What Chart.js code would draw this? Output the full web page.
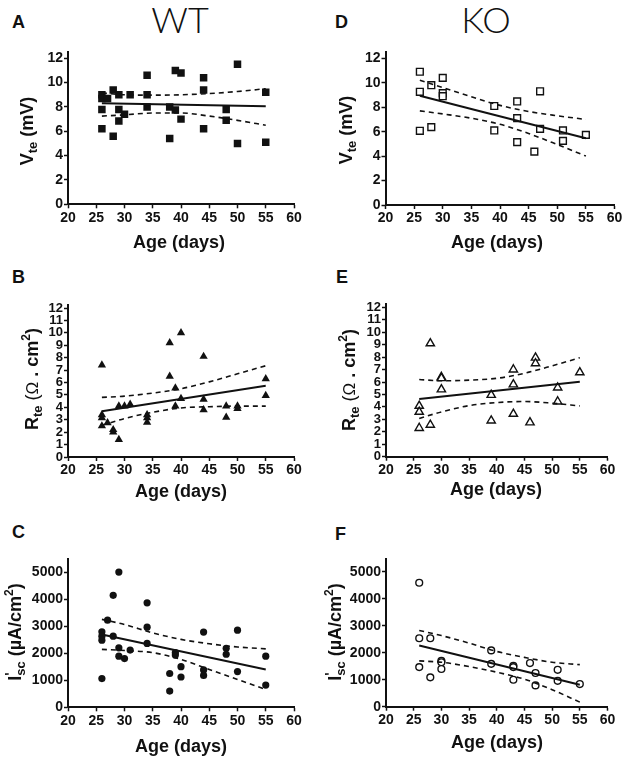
<!DOCTYPE html>
<html><head><meta charset="utf-8">
<script src="https://cdn.jsdelivr.net/npm/chart.js@4.4.1/dist/chart.umd.min.js"></script>
<style>
html,body{margin:0;padding:0;background:#fff;}
body{width:640px;height:772px;position:relative;overflow:hidden;font-family:"Liberation Sans",Arial,sans-serif;}
canvas{position:absolute;}
.lbl{position:absolute;font-weight:bold;font-size:18px;line-height:18px;color:#111;}
.grp{position:absolute;width:140px;text-align:center;font-family:"Lato","DejaVu Sans",sans-serif;font-weight:300;font-size:36px;line-height:36px;color:#111;}
</style></head><body>
<div class="grp" style="left:110px;top:1px">WT</div>
<div class="grp" style="left:416px;top:1px">KO</div>
<div class="lbl" style="left:12px;top:13px">A</div>
<div class="lbl" style="left:335px;top:13px">D</div>
<div class="lbl" style="left:12px;top:268px">B</div>
<div class="lbl" style="left:336px;top:268px">E</div>
<div class="lbl" style="left:12px;top:523px">C</div>
<div class="lbl" style="left:335px;top:525px">F</div>
<script>
// ---------- data ----------
const ageTicks = [20,25,30,35,40,45,50,55,60];
const vteTicks = [0,2,4,6,8,10,12];
const rteTicks = [0,1,2,3,4,5,6,7,8,9,10,11,12];
const iscTicks = [0,1000,2000,3000,4000,5000];
const fitAge = [26,55];
const bandAge = [26,30,35,40,45,50,55];

// A: WT Vte
const wtVteAge = [26,26,26,26,27,28,28,29,29,29,30,31,34,34,34,38,38,39,39,40,40,44,44,44,48,48,50,50,55,55];
const wtVte = [9.0,8.7,7.8,6.2,8.7,9.4,5.6,9.0,7.8,6.85,7.4,9.0,10.6,9.0,8.0,8.0,5.4,11.0,7.75,10.8,7.0,10.4,9.4,6.2,7.8,6.9,11.5,5.0,9.2,5.1];
const wtVteFit = [8.3,8.05];
const wtVteUpper = [9.15,9.0,8.97,9.0,9.1,9.27,9.5];
const wtVteLower = [7.25,7.35,7.5,7.5,7.25,6.9,6.5];

// D: KO Vte
const koVteAge = [26,26,26,28,28,30,30,30,39,39,43,43,43,46,47,47,51,51,55];
const koVte = [10.9,9.26,6.07,9.8,6.37,10.4,9.15,8.9,8.1,6.1,8.47,7.1,5.14,4.37,9.3,6.23,6.1,5.25,5.74];
const koVteFit = [8.93,5.46];
const koVteUpper = [10.2,9.6,8.85,8.15,7.65,7.3,7.0];
const koVteLower = [7.7,7.45,7.1,6.6,5.85,4.95,4.0];

// B: WT Rte
const wtRteAge = [26,26,26,26,27,28,28,29,29,30,31,34,34,34,38,38,39,39,40,40,44,44,44,48,48,50,50,55,55];
const wtRte = [7.4,3.4,3.15,2.5,2.75,2.2,2.0,4.1,1.4,4.1,4.25,3.4,3.15,2.8,9.2,6.5,5.55,4.1,10.0,4.7,8.1,4.65,3.8,4.1,3.2,4.1,3.9,6.3,4.95];
const wtRteFit = [3.68,5.74];
const wtRteUpper = [4.8,4.9,5.15,5.5,6.05,6.7,7.35];
const wtRteLower = [2.55,3.1,3.6,3.95,4.05,4.1,4.1];

// E: KO Rte
const koRteAge = [26,26,26,28,28,30,30,30,39,39,43,43,43,46,47,47,51,51,55];
const koRte = [4.08,3.6,2.3,9.1,2.56,6.4,6.3,5.4,4.96,2.9,7.0,5.8,3.44,2.75,7.95,7.5,5.55,4.43,6.77];
const koRteFit = [4.64,6.03];
const koRteUpper = [6.2,6.1,6.15,6.3,6.7,7.3,7.95];
const koRteLower = [3.07,3.6,4.1,4.35,4.43,4.3,4.08];

// C: WT Isc
const wtIscAge = [26,26,26,26,27,28,28,29,29,29,30,31,34,34,34,38,38,39,39,40,40,44,44,44,48,48,50,50,55,55];
const wtIsc = [2790,2630,2480,1060,3220,4140,2630,5000,2200,1890,1800,2115,3860,2960,2360,1250,600,2020,1930,1500,1120,2780,1380,1180,2180,1960,2850,1320,1890,820];
const wtIscFit = [2690,1400];
const wtIscUpper = [3250,3060,2750,2510,2350,2230,2160];
const wtIscLower = [2140,2100,2020,1770,1400,1030,660];

// F: KO Isc
const koIscAge = [26,26,26,28,28,30,30,30,39,39,43,43,43,46,47,47,51,51,55];
const koIsc = [4600,2540,1470,2540,1090,1700,1650,1400,2090,1590,1520,1470,1000,1620,1250,790,1370,960,840];
const koIscFit = [2270,815];
const koIscUpper = [2830,2640,2360,2050,1830,1650,1560];
const koIscLower = [1700,1650,1490,1280,1020,630,170];

// ---------- drawing ----------
const FONT = '"Liberation Sans", Arial, sans-serif';
const INK = '#111';
const zip = (xs, ys) => xs.map((x, i) => ({x: x, y: ys[i]}));

const annotPlugin = {
  id: 'annot',
  afterDraw(chart, args, o) {
    const ctx = chart.ctx;
    ctx.save();
    ctx.fillStyle = INK;
    ctx.font = 'bold 18px ' + FONT;
    ctx.textAlign = 'center';
    ctx.textBaseline = 'alphabetic';
    ctx.fillText(o.xTitle, o.xTitleX - o.ox, o.xTitleY - o.oy);
    ctx.translate(o.yTitleX - o.ox, o.yTitleY - o.oy);
    ctx.rotate(-Math.PI / 2);
    ctx.textAlign = 'left';
    const fontOf = p => (p.normal ? '' : 'bold ') + (p.s || o.ySize) + 'px ' + FONT;
    let total = 0;
    o.yParts.forEach(p => { ctx.font = fontOf(p); p.w = ctx.measureText(p.t).width; if (!p.stay) total += p.w; });
    let x = -total / 2;
    o.yParts.forEach(p => {
      ctx.font = fontOf(p);
      ctx.fillText(p.t, x, 6.5 + (p.dy || 0));
      if (!p.stay) x += p.w;
    });
    ctx.restore();
  }
};

function panel(c) {
  const cv = document.createElement('canvas');
  cv.width = c.w; cv.height = c.h;
  cv.style.left = c.ox + 'px'; cv.style.top = c.oy + 'px';
  cv.style.width = c.w + 'px'; cv.style.height = c.h + 'px';
  document.body.appendChild(cv);
  const line = (data, dash, width) => ({
    data: data, showLine: true, borderColor: INK, borderWidth: width, borderDash: dash,
    pointRadius: 0, fill: false, cubicInterpolationMode: 'monotone', order: 1
  });
  const axis = (ticks, min, max, size, isX) => ({
    type: 'linear', min: min, max: max,
    afterBuildTicks: s => { s.ticks = ticks.map(v => ({value: v})); },
    afterFit: s => { if (isX) s.height = c.xh; else s.width = c.yw; },
    ticks: {font: {family: FONT, size: size, weight: 'bold'}, color: INK, padding: 1, autoSkip: false, maxRotation: 0,
            callback: v => String(v)},
    grid: {display: true, drawOnChartArea: false, drawTicks: true, tickLength: 4, tickWidth: 1.5, tickColor: INK, color: INK},
    border: {display: true, color: INK, width: 2}
  });
  new Chart(cv, {
    type: 'scatter',
    data: {datasets: [
      {data: zip(c.px, c.py), pointStyle: c.style, pointRadius: c.r,
       pointBackgroundColor: c.open ? '#fff' : INK, pointBorderColor: INK,
       pointBorderWidth: c.open ? 1.4 : 0, showLine: false, order: 2},
      line(zip(fitAge, c.fit), [], 2),
      line(zip(bandAge, c.up), [5, 4], 1.6),
      line(zip(bandAge, c.lo), [5, 4], 1.6)
    ]},
    options: {
      responsive: false, animation: false, devicePixelRatio: 1,
      layout: {padding: {left: 0, right: c.pr, top: c.pt, bottom: 0}},
      plugins: {legend: {display: false}, tooltip: {enabled: false},
        annot: {ox: c.ox, oy: c.oy, xTitle: 'Age (days)', xTitleX: c.xtx, xTitleY: c.xty,
                yTitleX: c.ytx, yTitleY: c.yty, yParts: c.yParts, ySize: 18}},
      scales: {
        x: axis(ageTicks, 20, 60, 14, true),
        y: axis(c.yt, 0, c.ymax, c.ys, false)
      }
    },
    plugins: [annotPlugin]
  });
}

const vParts = () => [{t: 'V'}, {t: 'te', s: 13, dy: 4}, {t: ' (mV)'}];
const rParts = () => [{t: 'R'}, {t: 'te', s: 13, dy: 4}, {t: ' '}, {t: '(', normal: true}, {t: 'Ω', normal: true, s: 17}, {t: ' . cm'}, {t: '2', s: 12, dy: -8}, {t: ')'}];
const iParts = () => [{t: 'I'}, {t: "'", s: 14, dy: -6, stay: true}, {t: 'sc', s: 13, dy: 4}, {t: ' (µA/cm'}, {t: '2', s: 12, dy: -8}, {t: ')'}];

// left column
panel({ox: 0, oy: 0, w: 320, h: 260, yw: 68, pr: 26, pt: 52.2, xh: 55.7,
  px: wtVteAge, py: wtVte, style: 'rect', r: 5.3, open: false,
  fit: wtVteFit, up: wtVteUpper, lo: wtVteLower, yt: vteTicks, ymax: 12.5, ys: 14,
  xtx: 179, xty: 248, ytx: 26, yty: 131, yParts: vParts()});
panel({ox: 0, oy: 258, w: 320, h: 258, yw: 68, pr: 26, pt: 46.9, xh: 59,
  px: wtRteAge, py: wtRte, style: 'triangle', r: 4.8, open: false,
  fit: wtRteFit, up: wtRteUpper, lo: wtRteLower, yt: rteTicks, ymax: 12.25, ys: 13,
  xtx: 181, xty: 497, ytx: 31, yty: 379, yParts: rParts()});
panel({ox: 0, oy: 516, w: 320, h: 256, yw: 68, pr: 26, pt: 42.5, xh: 64.7,
  px: wtIscAge, py: wtIsc, style: 'circle', r: 3.6, open: false,
  fit: wtIscFit, up: wtIscUpper, lo: wtIscLower, yt: iscTicks, ymax: 5500, ys: 14,
  xtx: 181, xty: 752, ytx: 14, yty: 632, yParts: iParts()});
// right column
panel({ox: 320, oy: 0, w: 320, h: 260, yw: 65.5, pr: 25.5, pt: 52.2, xh: 55,
  px: koVteAge, py: koVte, style: 'rect', r: 4.8, open: true,
  fit: koVteFit, up: koVteUpper, lo: koVteLower, yt: vteTicks, ymax: 12.5, ys: 14,
  xtx: 497, xty: 248, ytx: 345, yty: 130, yParts: vParts()});
panel({ox: 320, oy: 258, w: 320, h: 258, yw: 66, pr: 32.5, pt: 46.2, xh: 59.3,
  px: koRteAge, py: koRte, style: 'triangle', r: 4.8, open: true,
  fit: koRteFit, up: koRteUpper, lo: koRteLower, yt: rteTicks, ymax: 12.25, ys: 13,
  xtx: 496, xty: 495, ytx: 348, yty: 380, yParts: rParts()});
panel({ox: 320, oy: 516, w: 320, h: 256, yw: 66, pr: 32.5, pt: 42.5, xh: 65.3,
  px: koIscAge, py: koIsc, style: 'circle', r: 3.4, open: true,
  fit: koIscFit, up: koIscUpper, lo: koIscLower, yt: iscTicks, ymax: 5500, ys: 14,
  xtx: 497, xty: 748, ytx: 334, yty: 632, yParts: iParts()});
</script>
</body></html>
